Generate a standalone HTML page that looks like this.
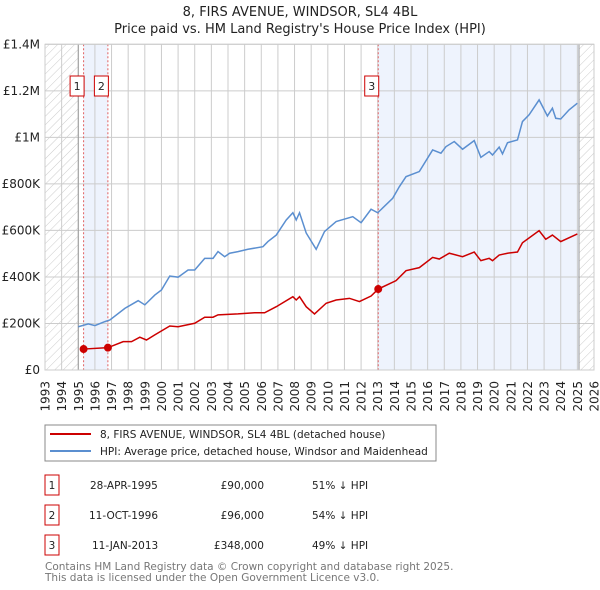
<!DOCTYPE html>
<html><head><meta charset="utf-8"><style>
body{margin:0;background:#fff;}
svg{display:block;font-family:"DejaVu Sans","Liberation Sans",sans-serif;}
</style></head><body>
<svg id="c" width="600" height="590" viewBox="0 0 600 590">
<defs><pattern id="hatch" width="6" height="6" patternUnits="userSpaceOnUse" patternTransform="rotate(45)"><line x1="0" y1="0" x2="0" y2="6" stroke="#ccc" stroke-width="1"/></pattern></defs>
<text x="300" y="16" text-anchor="middle" font-size="13" fill="#222">8, FIRS AVENUE, WINDSOR, SL4 4BL</text>
<text x="300" y="33" text-anchor="middle" font-size="13" fill="#222">Price paid vs. HM Land Registry's House Price Index (HPI)</text>
<g id="plot"></g>
<rect x="45" y="425" width="391" height="36" fill="#fff" stroke="#888"/>
<line x1="50" y1="434" x2="91" y2="434" stroke="#cc0000" stroke-width="2"/>
<text x="100" y="438" font-size="10.5" fill="#222">8, FIRS AVENUE, WINDSOR, SL4 4BL (detached house)</text>
<line x1="50" y1="451" x2="91" y2="451" stroke="#5b8fd0" stroke-width="2"/>
<text x="100" y="455" font-size="10.5" fill="#222">HPI: Average price, detached house, Windsor and Maidenhead</text>
<g font-size="10.5" fill="#222">
<rect x="45" y="475" width="14" height="20" fill="#fff" stroke="#cc0000"/><text x="52" y="489" text-anchor="middle">1</text>
<text x="90" y="489">28-APR-1995</text><text x="264" y="489" text-anchor="end">£90,000</text><text x="312" y="489">51% ↓ HPI</text>
<rect x="45" y="505" width="14" height="20" fill="#fff" stroke="#cc0000"/><text x="52" y="519" text-anchor="middle">2</text>
<text x="89" y="519">11-OCT-1996</text><text x="264" y="519" text-anchor="end">£96,000</text><text x="312" y="519">54% ↓ HPI</text>
<rect x="45" y="535" width="14" height="20" fill="#fff" stroke="#cc0000"/><text x="52" y="549" text-anchor="middle">3</text>
<text x="92" y="549">11-JAN-2013</text><text x="264" y="549" text-anchor="end">£348,000</text><text x="312" y="549">49% ↓ HPI</text>
</g>
<text x="45" y="570" font-size="10.5" fill="#777">Contains HM Land Registry data © Crown copyright and database right 2025.</text>
<text x="45" y="581" font-size="10.5" fill="#777">This data is licensed under the Open Government Licence v3.0.</text>
</svg>
<script>
const hpiYears=[1995.0,1995.6,1996.0,1996.6,1996.9,1997.8,1998.6,1999.0,1999.6,2000.0,2000.5,2001.0,2001.6,2002.0,2002.6,2003.1,2003.4,2003.8,2004.1,2004.6,2005.2,2006.1,2006.4,2006.9,2007.5,2007.9,2008.1,2008.3,2008.7,2009.3,2009.8,2010.5,2011.5,2012.0,2012.6,2013.0,2013.9,2014.3,2014.7,2015.5,2016.3,2016.8,2017.1,2017.6,2018.1,2018.8,2019.2,2019.7,2019.9,2020.3,2020.5,2020.8,2021.4,2021.7,2022.1,2022.7,2023.2,2023.5,2023.7,2024.0,2024.5,2025.0];
const hpiValues=[186,198,191,208,215,265,298,280,322,344,404,399,430,430,480,480,509,487,502,509,519,530,552,580,645,676,645,676,589,519,595,638,659,633,691,676,738,788,831,853,946,932,960,982,949,986,914,939,924,958,929,977,989,1068,1097,1161,1092,1125,1082,1079,1118,1147];
const priceYears=[1995.32,1996.78,1997.7,1998.2,1998.7,1999.1,1999.6,2000.5,2001.0,2002.0,2002.6,2003.1,2003.4,2004.6,2005.6,2006.2,2006.9,2007.9,2008.1,2008.3,2008.7,2009.2,2009.9,2010.5,2011.3,2011.9,2012.6,2013.03,2014.1,2014.7,2015.5,2016.3,2016.7,2017.3,2018.1,2018.8,2019.2,2019.7,2019.9,2020.3,2020.8,2021.4,2021.7,2022.7,2023.1,2023.5,2024.0,2025.0];
const priceValues=[90,96,122,122,141,129,151,189,186,201,227,227,237,241,246,246,272,315,301,315,272,241,287,301,308,294,318,348,384,427,440,484,477,502,487,507,470,480,470,494,502,507,547,599,562,580,552,585];
const saleYears=[1995.32,1996.78,2013.03];
const saleValues=[90,96,348];
const saleLabels=["1","2","3"];
const yTicks=[0,200,400,600,800,1000,1200,1400];
const yTickLabels=["£0","£200K","£400K","£600K","£800K","£1M","£1.2M","£1.4M"];
const NS="http://www.w3.org/2000/svg";
const X0=45,X1=594,Y0=370,Y1=44.3;
const xs=y=>X0+(y-1993)/(2026-1993)*(X1-X0);
const ys=v=>Y0-v/1400*(Y0-Y1);
const g=document.getElementById('plot');
function mk(t,a){const e=document.createElementNS(NS,t);for(const k in a)e.setAttribute(k,a[k]);g.appendChild(e);return e;}
let e;
e=mk('rect',{x:X0,y:Y1,width:X1-X0,height:Y0-Y1,fill:'#fff'});


e=mk('rect',{x:xs(1995.32),y:Y1,width:xs(1996.78)-xs(1995.32),height:Y0-Y1,fill:'#eef3fd'});


e=mk('rect',{x:xs(2013.03),y:Y1,width:xs(2025.1)-xs(2013.03),height:Y0-Y1,fill:'#eef3fd'});


e=mk('rect',{x:X0,y:Y1,width:xs(1995)-X0,height:Y0-Y1,fill:'url(#hatch)'});


e=mk('rect',{x:xs(2025.1),y:Y1,width:X1-xs(2025.1),height:Y0-Y1,fill:'url(#hatch)'});


for(let yr=1993;yr<=2026;yr++){
 e=mk('line',{x1:xs(yr),x2:xs(yr),y1:Y1,y2:Y0,stroke:'#cccccc','stroke-width':1});
 
 
 const tx=xs(yr)+4.5,ty=381;
 e=mk('text',{x:tx,y:ty,'text-anchor':'end','font-size':12,fill:'#222',transform:'rotate(-90 '+tx+' '+ty+')'});e.textContent=yr;
 
 
}
yTicks.forEach((v,i)=>{
 e=mk('line',{x1:X0,x2:X1,y1:ys(v),y2:ys(v),stroke:'#cccccc','stroke-width':1});
 
 
 e=mk('text',{x:40,y:ys(v)+4,'text-anchor':'end','font-size':12,fill:'#222'});e.textContent=yTickLabels[i];
 
 
});
e=mk('line',{x1:xs(1995),x2:xs(1995),y1:Y1,y2:Y0,stroke:'#999','stroke-width':1});


e=mk('line',{x1:xs(2025.1),x2:xs(2025.1),y1:Y1,y2:Y0,stroke:'#999','stroke-width':1});


saleYears.forEach((y,i)=>{
 e=mk('line',{x1:xs(y),x2:xs(y),y1:Y1,y2:Y0,stroke:'#e06060','stroke-width':1,'stroke-dasharray':'2,2'});
 
 
});
e=mk('rect',{x:X0,y:Y1,width:X1-X0,height:Y0-Y1,fill:'none',stroke:'#ccc'});


e=mk('polyline',{points:hpiYears.map((y,i)=>xs(y)+','+ys(hpiValues[i])).join(' '),fill:'none',stroke:'#5b8fd0','stroke-width':1.5});


e=mk('polyline',{points:priceYears.map((y,i)=>xs(y)+','+ys(priceValues[i])).join(' '),fill:'none',stroke:'#cc0000','stroke-width':1.5});


saleYears.forEach((y,i)=>{
 e=mk('circle',{cx:xs(y),cy:ys(saleValues[i]),r:4,fill:'#cc0000'});
 
 
 e=mk('rect',{x:xs(y)-13.5,y:76,width:14,height:20,fill:'#fff',stroke:'#cc0000'});
 
 
 e=mk('text',{x:xs(y)-6.5,y:90,'text-anchor':'middle','font-size':11,fill:'#222'});e.textContent=saleLabels[i];
 
 
});
</script>
</body></html>
